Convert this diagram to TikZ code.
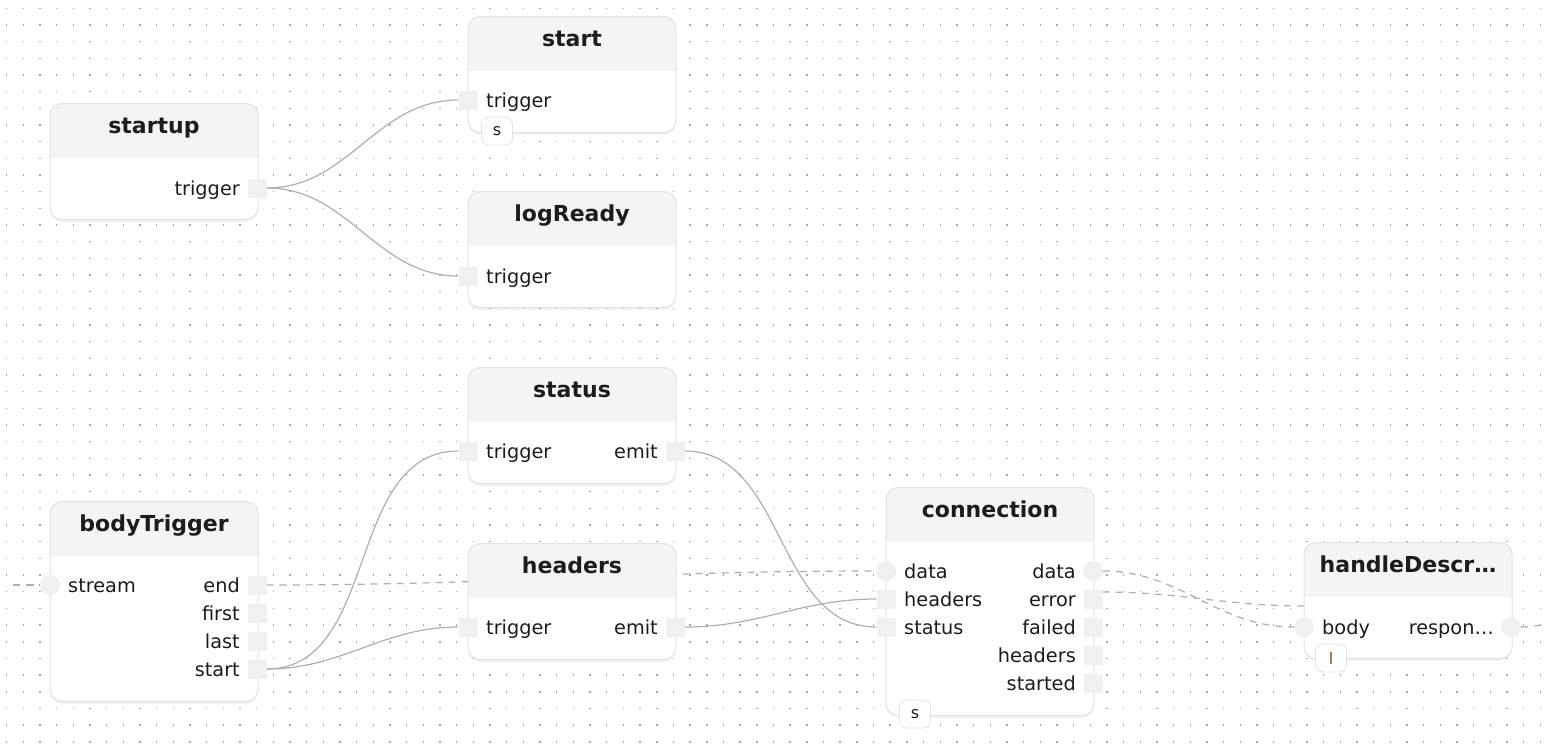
\documentclass[tikz,border=0pt]{standalone}
\usepackage{fontspec}
\setmainfont{DejaVu Sans}
\usetikzlibrary{calc,shadows}
\definecolor{cf4f4f4}{RGB}{244,244,244}
\definecolor{cefefef}{RGB}{240,240,240}
\definecolor{ce3e3e3}{RGB}{227,227,227}
\definecolor{cb0b0b0}{RGB}{174,174,174}
\definecolor{c1c1c1c}{RGB}{28,28,28}
\definecolor{ca8a8a8}{RGB}{168,168,168}
\definecolor{c8b4a1e}{RGB}{139,74,30}
\pgfdeclarelayer{dots}
\pgfdeclarelayer{wires}
\pgfsetlayers{dots,wires,main}
\tikzset{
  box/.style={draw=ce3e3e3, fill=white, line width=1pt, rounded corners=12pt,
    minimum width=208pt, minimum height=116pt, inner sep=0pt, anchor=north,
    drop shadow={shadow xshift=0pt, shadow yshift=-2pt, opacity=.12},
    path picture={\fill[cf4f4f4, sharp corners] (path picture bounding box.north west)
      rectangle ([yshift=-54pt]path picture bounding box.north east);}},
  headtext/.style={font=\fontsize{22}{22}\bfseries, text=c1c1c1c, anchor=base, inner sep=0pt},
  lbl/.style={font=\fontsize{19.3}{19.3}\selectfont, text=c1c1c1c, inner sep=0pt, yshift=-4.5pt},
  sq/.style={fill=cefefef, minimum size=19pt, inner sep=0pt},
  rnd/.style={sq, circle, minimum size=20pt},
  badge/.style={draw=ce3e3e3, fill=white, line width=.8pt, rounded corners=7pt,
    minimum width=31pt, minimum height=28pt, inner sep=0pt,
    font=\fontsize{16}{16}\selectfont, text=c1c1c1c},
  wire/.style={draw=cb0b0b0, line width=1.2pt},
  lazy/.style={wire, dash pattern=on 7pt off 6pt}
}

\begin{document}
\begin{tikzpicture}[x=1pt,y=-1pt]
\useasboundingbox (0,0) rectangle (1552,750);

% nodes
\node[box] (startup) at (154,103) {};
\node[box] (start) at (572,16) {};
\node[box] (logReady) at (572,191) {};
\node[box] (status) at (572,367) {};
\node[box] (headers) at (572,543) {};
\node[box, minimum height=200pt] (bodyTrigger) at (154,501) {};
\node[box, minimum height=228pt] (connection) at (990,487) {};
\node[box] (handleDescr) at (1408,542) {};

\node[headtext] (startup-t) at (154,133.5) {startup};
\node[headtext] (start-t) at (572,46.5) {start};
\node[headtext] (logReady-t) at (572,221.5) {logReady};
\node[headtext] (status-t) at (572,397.5) {status};
\node[headtext] (headers-t) at (572,573.5) {headers};
\node[headtext] (bodyTrigger-t) at (154,531.5) {bodyTrigger};
\node[headtext] (connection-t) at (990,517.5) {connection};
\node[headtext] (handleDescr-t) at (1408,572.5) {handleDescr…};

% ports
\node[sq] (startup-trigger) at (257,188) {};
\node[lbl, anchor=mid east] (startup-trigger-l) at (240,188) {trigger};

\node[sq] (start-trigger) at (468,100) {};
\node[lbl, anchor=mid west] (start-trigger-l) at (486,100) {trigger};
\node[badge] (start-b) at (497,131) {s};

\node[sq] (logReady-trigger) at (468,276) {};
\node[lbl, anchor=mid west] (logReady-trigger-l) at (486,276) {trigger};

\node[sq] (status-trigger) at (468,451) {};
\node[lbl, anchor=mid west] (status-trigger-l) at (486,451) {trigger};
\node[sq] (status-emit) at (675,451) {};
\node[lbl, anchor=mid east] (status-emit-l) at (658,451) {emit};

\node[sq] (headers-trigger) at (468,627) {};
\node[lbl, anchor=mid west] (headers-trigger-l) at (486,627) {trigger};
\node[sq] (headers-emit) at (675,627) {};
\node[lbl, anchor=mid east] (headers-emit-l) at (658,627) {emit};

\node[rnd] (bt-stream) at (50,585) {};
\node[lbl, anchor=mid west] (bt-stream-l) at (68,585) {stream};
\node[sq] (bt-end) at (257,585) {};
\node[lbl, anchor=mid east] (bt-end-l) at (240,585) {end};
\node[sq] (bt-first) at (257,613) {};
\node[lbl, anchor=mid east] (bt-first-l) at (240,613) {first};
\node[sq] (bt-last) at (257,641) {};
\node[lbl, anchor=mid east] (bt-last-l) at (240,641) {last};
\node[sq] (bt-start) at (257,669) {};
\node[lbl, anchor=mid east] (bt-start-l) at (240,669) {start};

\node[rnd] (cn-data-in) at (886,571) {};
\node[lbl, anchor=mid west] (cn-data-in-l) at (904,571) {data};
\node[sq] (cn-headers-in) at (886,599) {};
\node[lbl, anchor=mid west] (cn-headers-in-l) at (904,599) {headers};
\node[sq] (cn-status-in) at (886,627) {};
\node[lbl, anchor=mid west] (cn-status-in-l) at (904,627) {status};
\node[rnd] (cn-data) at (1093,571) {};
\node[lbl, anchor=mid east] (cn-data-l) at (1076,571) {data};
\node[sq] (cn-error) at (1093,599) {};
\node[lbl, anchor=mid east] (cn-error-l) at (1076,599) {error};
\node[sq] (cn-failed) at (1093,627) {};
\node[lbl, anchor=mid east] (cn-failed-l) at (1076,627) {failed};
\node[sq] (cn-headers) at (1093,655) {};
\node[lbl, anchor=mid east] (cn-headers-l) at (1076,655) {headers};
\node[sq] (cn-started) at (1093,683) {};
\node[lbl, anchor=mid east] (cn-started-l) at (1076,683) {started};
\node[badge] (cn-b) at (915,714) {s};

\node[rnd] (hd-body) at (1304,627) {};
\node[lbl, anchor=mid west] (hd-body-l) at (1322,627) {body};
\node[rnd] (hd-resp) at (1511,627) {};
\node[lbl, anchor=mid east] (hd-resp-l) at (1494,627) {respon…};
\node[badge, text=c8b4a1e] (hd-b) at (1331,658) {l};

\coordinate (in-free) at (13,585);
\coordinate (out-free) at (1546,625);
\coordinate (hd-hidden) at (1304,606);

% dotted grid
\begin{pgfonlayer}{dots}
\foreach \i in {0,...,92}
  \foreach \j in {0,...,44}
    \fill[ca8a8a8] (6.67+16.67*\i-0.7,8.33+16.67*\j-0.7) rectangle +(1.4,1.4);
\end{pgfonlayer}

% connectors
\begin{pgfonlayer}{wires}
\path[wire] (startup-trigger) to[out=0,in=180] (start-trigger);
\path[wire] (startup-trigger) to[out=0,in=180] (logReady-trigger);
\path[wire] (bt-start) to[out=0,in=180] (status-trigger);
\path[wire] (bt-start) to[out=0,in=180] (headers-trigger);
\path[wire] (status-emit) to[out=0,in=180] (cn-status-in);
\path[wire] (headers-emit) to[out=0,in=180] (cn-headers-in);
\path[lazy] (in-free) to[out=0,in=180] (bt-stream);
\path[lazy] (bt-end) to[out=0,in=180] (cn-data-in);
\path[lazy] (cn-data) to[out=0,in=180] (hd-body);
\path[lazy] ([yshift=7pt]cn-error.east) to[out=0,in=180] (hd-hidden);
\path[lazy] (hd-resp) to[out=0,in=180] (out-free);
\end{pgfonlayer}

\end{tikzpicture}
\end{document}
